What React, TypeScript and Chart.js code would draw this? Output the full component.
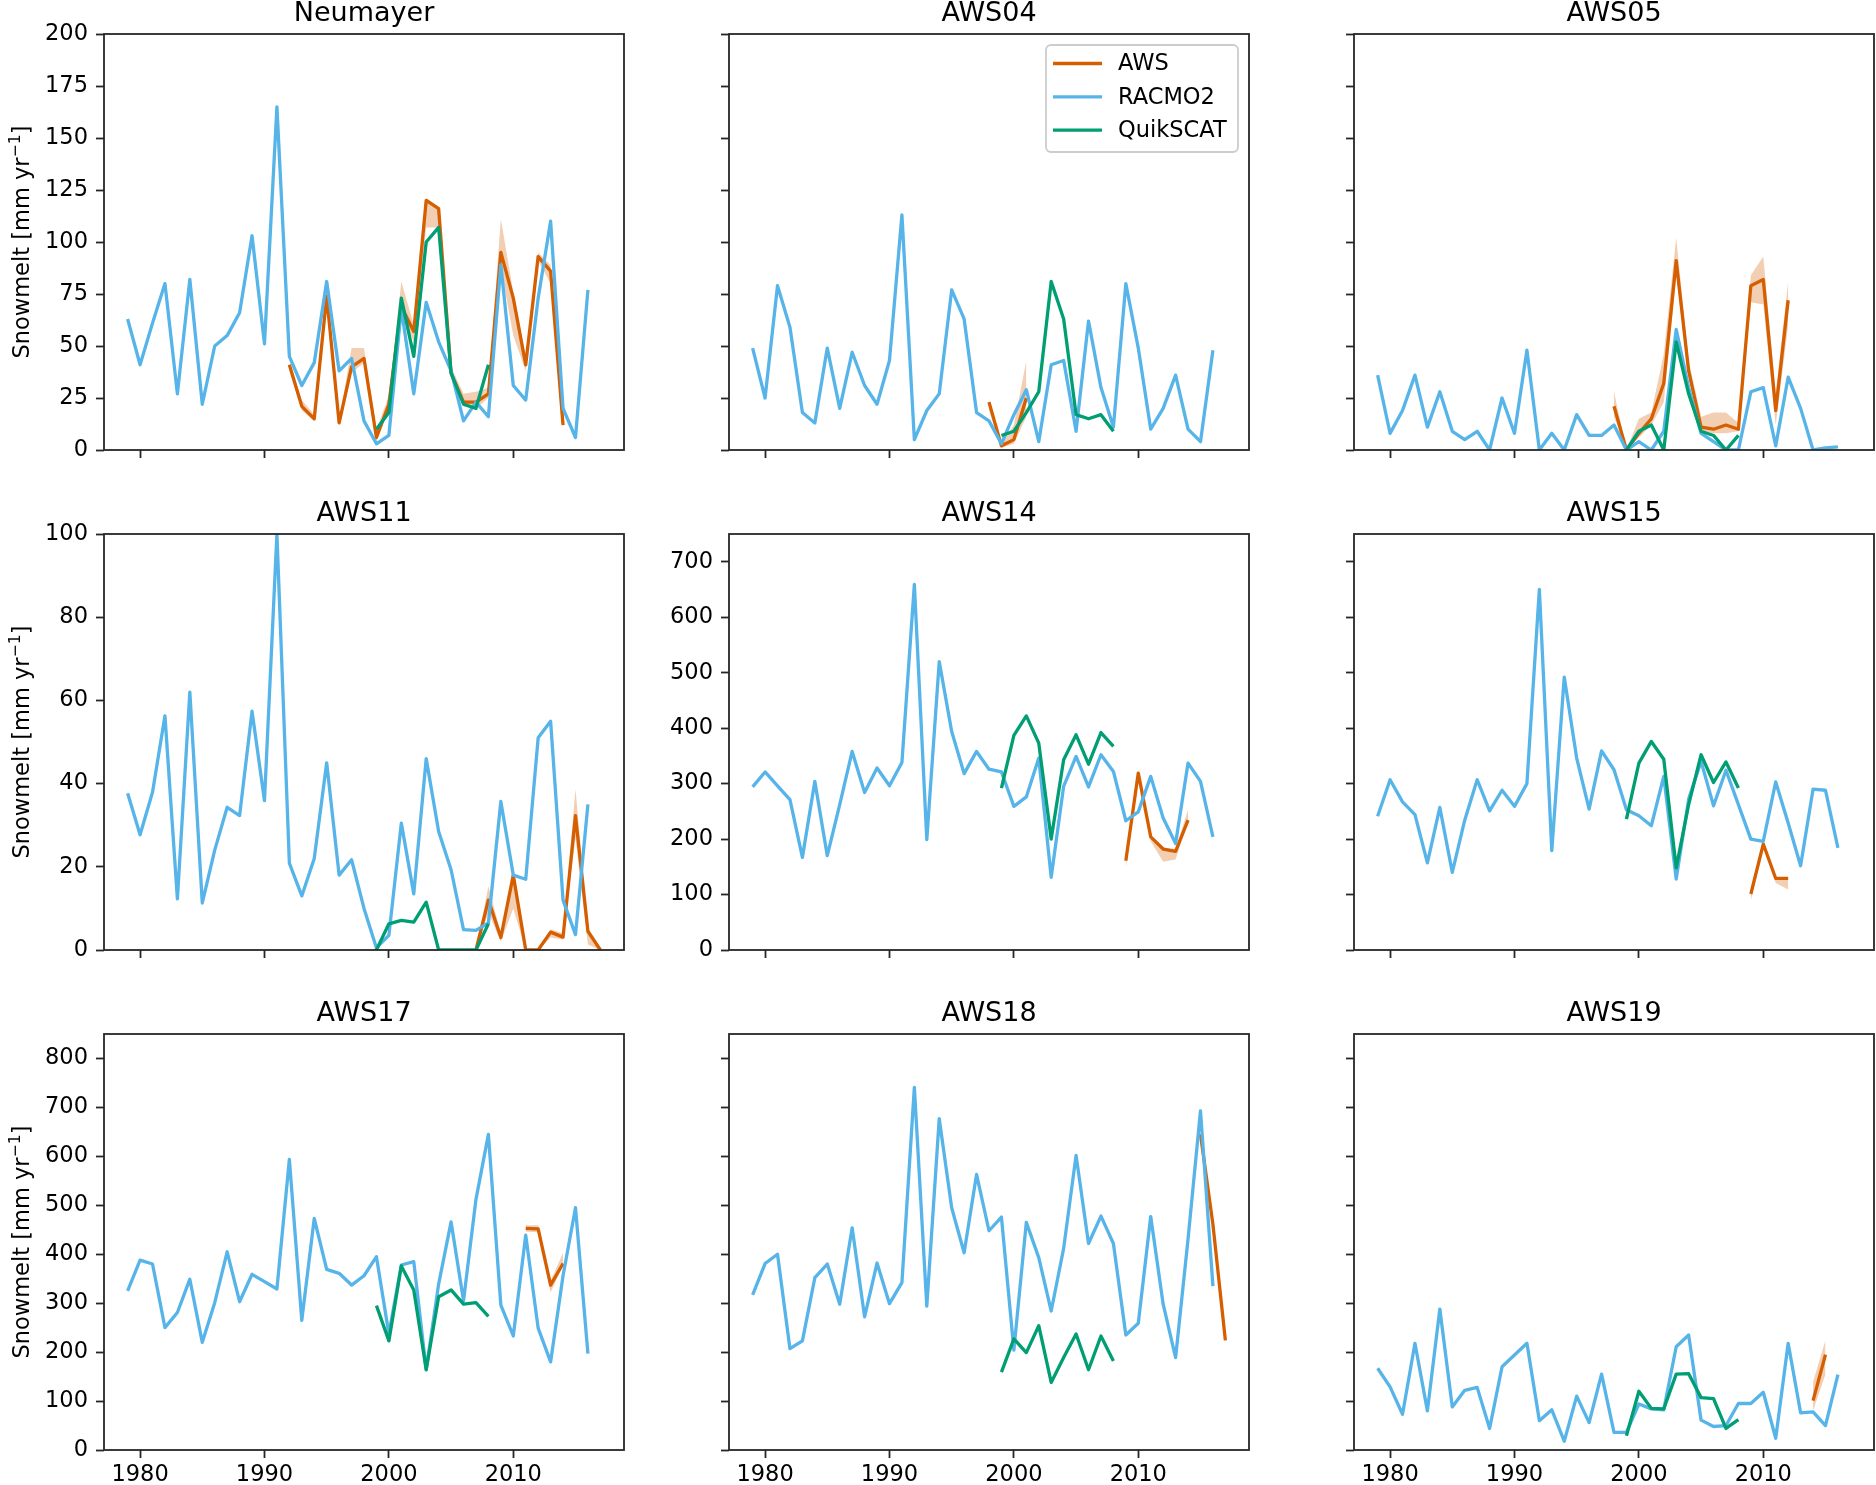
import React, { useEffect, useRef } from 'react';
import { Chart, registerables } from 'chart.js';

Chart.register(...registerables);

const FONT_FAMILY = '"DejaVu Sans", "Noto Sans", sans-serif';
const FONT_SIZE = 22.5;
const TITLE_SIZE = 27;
const C_AWS = '#D55E00';
const C_RAC = '#56B4E9';
const C_QS = '#009E73';
const C_BAND = 'rgba(213,94,0,0.3)';
const C_SPINE = '#262626';

// ---------- shared categories ----------
const RACMO_YEARS = [
  1979, 1980, 1981, 1982, 1983, 1984, 1985, 1986, 1987, 1988,
  1989, 1990, 1991, 1992, 1993, 1994, 1995, 1996, 1997, 1998,
  1999, 2000, 2001, 2002, 2003, 2004, 2005, 2006, 2007, 2008,
  2009, 2010, 2011, 2012, 2013, 2014, 2015, 2016,
];
const QS_YEARS = [1999, 2000, 2001, 2002, 2003, 2004, 2005, 2006, 2007, 2008];
const X_TICKS = [1980, 1990, 2000, 2010];
const Y_TICKS_200 = [0, 25, 50, 75, 100, 125, 150, 175, 200];
const Y_TICKS_100 = [0, 20, 40, 60, 80, 100];
const Y_TICKS_700 = [0, 100, 200, 300, 400, 500, 600, 700];
const Y_TICKS_800 = [0, 100, 200, 300, 400, 500, 600, 700, 800];
const TITLES = ['Neumayer', 'AWS04', 'AWS05', 'AWS11', 'AWS14', 'AWS15', 'AWS17', 'AWS18', 'AWS19'];
const LEGEND_LABELS = ['AWS', 'RACMO2', 'QuikSCAT'];
const Y_LABEL_MAIN = 'Snowmelt [mm yr';
const Y_LABEL_SUP = '\u22121';
const Y_LABEL_END = ']';

// ---------- Neumayer ----------
const NEU_RACMO = [63, 41, 61, 80, 27, 82, 22, 50, 55, 66, 103, 51, 165, 45, 31, 42, 81, 38, 44, 14, 3, 7, 68, 27, 71, 52, 38, 14, 23, 16, 89, 31, 24, 73, 110, 20, 6, 77];
const NEU_AWS_YEARS = [1992, 1993, 1994, 1995, 1996, 1997, 1998, 1999, 2000, 2001, 2002, 2003, 2004, 2005, 2006, 2007, 2008, 2009, 2010, 2011, 2012, 2013, 2014];
const NEU_AWS = [41, 21, 15, 74, 13, 40, 44, 6, 22, 69, 57, 120, 116, 37, 23, 23, 27, 95, 73, 41, 93, 86, 12];
const NEU_AWS_LOW = [38, 19, 14, 72, 12, 37, 42, 4, 20, 66, 52, 107, 107, 35, 21, 20, 25, 88, 55, 38, 91, 80, 12];
const NEU_AWS_HIGH = [42, 24, 17, 76, 14, 49, 49, 10, 26, 81, 60, 121, 117, 40, 27, 28, 30, 111, 76, 45, 95, 89, 13];
const NEU_QS = [10, 18, 73, 45, 100, 107, 37, 22, 20, 41];

// ---------- AWS04 ----------
const A04_RACMO = [49, 25, 79, 59, 18, 13, 49, 20, 47, 31, 22, 43, 113, 5, 19, 27, 77, 63, 18, 14, 3, 17, 29, 4, 41, 43, 9, 62, 30, 11, 80, 49, 10, 20, 36, 10, 4, 48];
const A04_AWS_YEARS = [1998, 1999, 2000, 2001];
const A04_AWS = [23, 2, 5, 25];
const A04_AWS_LOW = [19, 1, 3, 16];
const A04_AWS_HIGH = [24, 3, 12, 43];
const A04_QS = [7, 9, 18, 28, 81, 63, 17, 15, 17, 9];

// ---------- AWS05 ----------
const A05_RACMO = [36, 8, 19, 36, 11, 28, 9, 5, 9, 0, 25, 8, 48, 0, 8, 0, 17, 7, 7, 12, 0, 4, 0, 9, 58, 30, 8, 4, 0, 0, 28, 30, 2, 35, 20, 0, 1, 1.5];
const A05_AWS_YEARS = [1998, 1999, 2000, 2001, 2002, 2003, 2004, 2005, 2006, 2007, 2008, 2009, 2010, 2011, 2012];
const A05_AWS = [21, 0, 8, 15, 32, 91, 38, 11, 10, 12, 10, 79, 82, 19, 72];
const A05_AWS_LOW = [16, 0, 6, 12, 23, 84, 35, 9, 8, 8, 9, 71, 70, 12, 60];
const A05_AWS_HIGH = [28, 0, 15, 18, 46, 102, 43, 16, 18, 18, 13, 84, 93, 27, 81];
const A05_QS = [0, 9, 12, 0, 52, 27, 9, 7, 0, 7];

// ---------- AWS11 ----------
const A11_RACMO = [37.7, 27.7, 37.9, 56.3, 12.3, 62, 11.3, 24, 34.3, 32.3, 57.4, 35.9, 100, 20.9, 13, 22, 45, 18, 21.7, 10, 0.5, 3.5, 30.5, 13.5, 46, 28.5, 19.3, 4.9, 4.7, 6.5, 35.7, 18, 17, 51, 55, 12, 3.7, 35];
const A11_AWS_YEARS = [2007, 2008, 2009, 2010, 2011, 2012, 2013, 2014, 2015, 2016, 2017];
const A11_AWS = [0, 12, 3, 18, 0, 0, 4.3, 3.1, 32.3, 4.5, 0];
const A11_AWS_LOW = [0, 9, 2, 10, 0, 0, 3, 2.5, 27, 1.3, 0];
const A11_AWS_HIGH = [0, 15.3, 4, 19, 0, 0, 5, 4, 38.7, 5, 0];
const A11_QS = [0, 6.3, 7.1, 6.7, 11.5, 0, 0, 0, 0, 6.3];

// ---------- AWS14 ----------
const A14_RACMO = [294, 321, 296, 271, 167, 304, 170, 262, 358, 284, 328, 296, 338, 659, 199, 520, 394, 318, 358, 326, 321, 259, 276, 346, 131, 295, 349, 294, 352, 322, 233, 249, 313, 238, 192, 337, 304, 204];
const A14_AWS_YEARS = [2009, 2010, 2011, 2012, 2013, 2014];
const A14_AWS = [161, 319, 204, 182, 178, 234];
const A14_AWS_LOW = [148, 316, 196, 159, 163, 232];
const A14_AWS_HIGH = [164, 322, 206, 185, 182, 253];
const A14_QS = [292, 387, 422, 373, 200, 343, 388, 335, 392, 367];

// ---------- AWS15 ----------
const A15_RACMO = [241, 307, 267, 244, 157, 257, 140, 234, 307, 251, 288, 259, 300, 650, 179, 492, 346, 254, 359, 325, 253, 242, 224, 313, 128, 272, 340, 260, 324, 262, 200, 196, 303, 229, 152, 290, 288, 184];
const A15_AWS_YEARS = [2009, 2010, 2011, 2012];
const A15_AWS = [101, 191, 129, 129];
const A15_AWS_LOW = [89, 189, 121, 109];
const A15_AWS_HIGH = [104, 194, 131, 130];
const A15_QS = [236, 337, 376, 344, 148, 262, 352, 302, 339, 292];

// ---------- AWS17 ----------
const A17_RACMO = [325, 388, 380, 250, 281, 349, 220, 301, 405, 303, 359, 344, 329, 594, 265, 473, 369, 361, 337, 356, 395, 237, 378, 385, 164, 339, 466, 305, 512, 645, 296, 233, 439, 249, 180, 356, 495, 197];
const A17_AWS_YEARS = [2011, 2012, 2013, 2014];
const A17_AWS = [453, 452, 337, 381];
const A17_AWS_LOW = [446, 445, 322, 378];
const A17_AWS_HIGH = [459, 459, 346, 403];
const A17_QS = [295, 223, 376, 327, 164, 313, 327, 298, 301, 273];

// ---------- AWS18 ----------
const A18_RACMO = [317, 381, 400, 207, 223, 352, 380, 298, 454, 272, 382, 299, 342, 741, 294, 677, 495, 403, 563, 448, 476, 204, 465, 393, 284, 412, 602, 422, 478, 422, 235, 259, 477, 298, 189, 431, 693, 335];
const A18_AWS_YEARS = [2015, 2016, 2017];
const A18_AWS = [645, 461, 224];
const A18_AWS_LOW = [640, 450, 216];
const A18_AWS_HIGH = [652, 470, 230];
const A18_QS = [159, 227, 199, 254, 138, 189, 237, 164, 233, 182];

// ---------- AWS19 ----------
const A19_RACMO = [167, 129, 73, 218, 80, 288, 88, 122, 128, 44, 170, 194, 218, 60, 82, 18, 110, 56, 155, 36, 36, 94, 84, 82, 211, 235, 61, 48, 50, 95, 95, 118, 24, 218, 76, 78, 50, 154];
const A19_AWS_YEARS = [2014, 2015];
const A19_AWS = [101, 195];
const A19_AWS_LOW = [80, 155];
const A19_AWS_HIGH = [139, 224];
const A19_QS = [29, 120, 85, 84, 155, 156, 107, 105, 44, 62];

type PanelDef = {
  title: string;
  racmo: number[];
  awsYears: number[];
  aws: number[];
  awsLow: number[];
  awsHigh: number[];
  qs: number[];
  yMax: number;
  yTicks: number[];
  row: number;
  col: number;
};

const PANELS: PanelDef[] = [
  { title: TITLES[0], racmo: NEU_RACMO, awsYears: NEU_AWS_YEARS, aws: NEU_AWS, awsLow: NEU_AWS_LOW, awsHigh: NEU_AWS_HIGH, qs: NEU_QS, yMax: 200, yTicks: Y_TICKS_200, row: 0, col: 0 },
  { title: TITLES[1], racmo: A04_RACMO, awsYears: A04_AWS_YEARS, aws: A04_AWS, awsLow: A04_AWS_LOW, awsHigh: A04_AWS_HIGH, qs: A04_QS, yMax: 200, yTicks: Y_TICKS_200, row: 0, col: 1 },
  { title: TITLES[2], racmo: A05_RACMO, awsYears: A05_AWS_YEARS, aws: A05_AWS, awsLow: A05_AWS_LOW, awsHigh: A05_AWS_HIGH, qs: A05_QS, yMax: 200, yTicks: Y_TICKS_200, row: 0, col: 2 },
  { title: TITLES[3], racmo: A11_RACMO, awsYears: A11_AWS_YEARS, aws: A11_AWS, awsLow: A11_AWS_LOW, awsHigh: A11_AWS_HIGH, qs: A11_QS, yMax: 100, yTicks: Y_TICKS_100, row: 1, col: 0 },
  { title: TITLES[4], racmo: A14_RACMO, awsYears: A14_AWS_YEARS, aws: A14_AWS, awsLow: A14_AWS_LOW, awsHigh: A14_AWS_HIGH, qs: A14_QS, yMax: 750, yTicks: Y_TICKS_700, row: 1, col: 1 },
  { title: TITLES[5], racmo: A15_RACMO, awsYears: A15_AWS_YEARS, aws: A15_AWS, awsLow: A15_AWS_LOW, awsHigh: A15_AWS_HIGH, qs: A15_QS, yMax: 750, yTicks: Y_TICKS_700, row: 1, col: 2 },
  { title: TITLES[6], racmo: A17_RACMO, awsYears: A17_AWS_YEARS, aws: A17_AWS, awsLow: A17_AWS_LOW, awsHigh: A17_AWS_HIGH, qs: A17_QS, yMax: 850, yTicks: Y_TICKS_800, row: 2, col: 0 },
  { title: TITLES[7], racmo: A18_RACMO, awsYears: A18_AWS_YEARS, aws: A18_AWS, awsLow: A18_AWS_LOW, awsHigh: A18_AWS_HIGH, qs: A18_QS, yMax: 850, yTicks: Y_TICKS_800, row: 2, col: 1 },
  { title: TITLES[8], racmo: A19_RACMO, awsYears: A19_AWS_YEARS, aws: A19_AWS, awsLow: A19_AWS_LOW, awsHigh: A19_AWS_HIGH, qs: A19_QS, yMax: 850, yTicks: Y_TICKS_800, row: 2, col: 2 },
];

// ---------- layout constants ----------
const CANVAS_W = 626;
const CANVAS_H = 484;
const Y_AXIS_W = 104;
const X_AXIS_H = 34;
const TOP_PAD = 34;
const COL_STEP = 625;
const ROW_STEP = 500;
const LINE_W = 3.3;

const font = (size: number) => `${size}px ${FONT_FAMILY}`;

function pts(xs: number[], ys: number[]) {
  return xs.map((x, i) => ({ x, y: ys[i] }));
}

function makeDecorPlugin(p: PanelDef) {
  return {
    id: 'decor' + p.title,
    afterDraw(chart: any) {
      const ctx: CanvasRenderingContext2D = chart.ctx;
      const ca = chart.chartArea;
      ctx.save();
      // spines
      ctx.strokeStyle = C_SPINE;
      ctx.lineWidth = 1.8;
      ctx.lineJoin = 'miter';
      ctx.strokeRect(ca.left, ca.top, ca.right - ca.left, ca.bottom - ca.top);

      // title
      ctx.fillStyle = '#000';
      ctx.font = font(TITLE_SIZE);
      ctx.textAlign = 'center';
      ctx.textBaseline = 'alphabetic';
      ctx.fillText(p.title, (ca.left + ca.right) / 2, ca.top - 13.5);

      // y label on first column
      if (p.col === 0) {
        ctx.save();
        ctx.translate(22, (ca.top + ca.bottom) / 2);
        ctx.rotate(-Math.PI / 2);
        ctx.textAlign = 'left';
        ctx.textBaseline = 'alphabetic';
        ctx.font = font(FONT_SIZE);
        const w1 = ctx.measureText(Y_LABEL_MAIN).width;
        const w3 = ctx.measureText(Y_LABEL_END).width;
        ctx.font = font(FONT_SIZE * 0.7);
        const w2 = ctx.measureText(Y_LABEL_SUP).width;
        const total = w1 + w2 + w3;
        let x = -total / 2;
        const base = 7;
        ctx.font = font(FONT_SIZE);
        ctx.fillText(Y_LABEL_MAIN, x, base);
        x += w1;
        ctx.font = font(FONT_SIZE * 0.7);
        ctx.fillText(Y_LABEL_SUP, x, base - 9);
        x += w2;
        ctx.font = font(FONT_SIZE);
        ctx.fillText(Y_LABEL_END, x, base);
        ctx.restore();
      }

      // legend in AWS04 panel
      if (p.row === 0 && p.col === 1) {
        const w = 192;
        const h = 107;
        const bx = ca.right - 11 - w;
        const by = ca.top + 11;
        ctx.beginPath();
        if ((ctx as any).roundRect) {
          (ctx as any).roundRect(bx, by, w, h, 5);
        } else {
          ctx.rect(bx, by, w, h);
        }
        ctx.fillStyle = 'rgba(255,255,255,0.8)';
        ctx.fill();
        ctx.strokeStyle = '#cccccc';
        ctx.lineWidth = 1.8;
        ctx.stroke();
        const colors = [C_AWS, C_RAC, C_QS];
        LEGEND_LABELS.forEach((lab, i) => {
          const cy = by + 18.5 + i * 33.3;
          ctx.beginPath();
          ctx.strokeStyle = colors[i];
          ctx.lineWidth = LINE_W;
          ctx.lineCap = 'butt';
          ctx.moveTo(bx + 7, cy);
          ctx.lineTo(bx + 56, cy);
          ctx.stroke();
          ctx.fillStyle = '#000';
          ctx.font = font(FONT_SIZE);
          ctx.textAlign = 'left';
          ctx.textBaseline = 'middle';
          ctx.fillText(lab, bx + 72, cy + 1);
        });
      }
      ctx.restore();
    },
  };
}

function makeConfig(p: PanelDef): any {
  const showX = p.row === 2;
  const showY = p.col === 0 || (p.row === 1 && p.col === 1);
  const lineCommon = {
    pointRadius: 0,
    borderWidth: LINE_W,
    tension: 0,
    fill: false,
    clip: 0,
    borderJoinStyle: 'round',
    borderCapStyle: 'butt',
  };
  return {
    type: 'line',
    data: {
      datasets: [
        { ...lineCommon, label: 'QuikSCAT', data: pts(QS_YEARS, p.qs), borderColor: C_QS, backgroundColor: C_QS, order: 0 },
        { ...lineCommon, label: 'RACMO2', data: pts(RACMO_YEARS, p.racmo), borderColor: C_RAC, backgroundColor: C_RAC, order: 1 },
        { ...lineCommon, label: 'AWS', data: pts(p.awsYears, p.aws), borderColor: C_AWS, backgroundColor: C_AWS, order: 2 },
        { ...lineCommon, label: 'AWS low', data: pts(p.awsYears, p.awsLow), borderColor: 'rgba(0,0,0,0)', borderWidth: 0, order: 4 },
        { ...lineCommon, label: 'AWS high', data: pts(p.awsYears, p.awsHigh), borderColor: 'rgba(0,0,0,0)', borderWidth: 0, backgroundColor: C_BAND, fill: 3, order: 3 },
      ],
    },
    options: {
      animation: false,
      responsive: false,
      maintainAspectRatio: false,
      devicePixelRatio: 1,
      events: [],
      layout: { padding: { top: TOP_PAD, right: 2, left: 0, bottom: 0 } },
      plugins: {
        legend: { display: false },
        tooltip: { enabled: false },
        title: { display: false },
      },
      scales: {
        x: {
          type: 'linear',
          min: 1977.1,
          max: 2018.9,
          afterBuildTicks: (s: any) => {
            s.ticks = X_TICKS.map((v) => ({ value: v }));
          },
          afterFit: (s: any) => {
            s.height = X_AXIS_H;
          },
          grid: { drawOnChartArea: false, drawTicks: true, tickLength: 8, tickWidth: 1.8, tickColor: C_SPINE, color: C_SPINE },
          border: { display: false },
          ticks: {
            color: showX ? '#000' : 'rgba(0,0,0,0)',
            font: { family: FONT_FAMILY, size: FONT_SIZE },
            padding: 4,
            maxRotation: 0,
            autoSkip: false,
            callback: (v: any) => String(v),
          },
        },
        y: {
          type: 'linear',
          min: 0,
          max: p.yMax,
          afterBuildTicks: (s: any) => {
            s.ticks = p.yTicks.map((v) => ({ value: v }));
          },
          afterFit: (s: any) => {
            s.width = Y_AXIS_W;
          },
          grid: { drawOnChartArea: false, drawTicks: true, tickLength: 8, tickWidth: 1.8, tickColor: C_SPINE, color: C_SPINE },
          border: { display: false },
          ticks: {
            color: showY ? '#000' : 'rgba(0,0,0,0)',
            font: { family: FONT_FAMILY, size: FONT_SIZE },
            padding: 8,
            autoSkip: false,
            callback: (v: any) => String(v),
          },
        },
      },
    },
    plugins: [makeDecorPlugin(p)],
  };
}

function Panel({ p }: { p: PanelDef }) {
  const ref = useRef<HTMLCanvasElement>(null);
  useEffect(() => {
    if (!ref.current) return;
    const chart = new Chart(ref.current, makeConfig(p));
    return () => chart.destroy();
  }, [p]);
  return (
    <canvas
      ref={ref}
      width={CANVAS_W}
      height={CANVAS_H}
      style={{
        position: 'absolute',
        left: p.col * COL_STEP,
        top: p.row * ROW_STEP,
        width: CANVAS_W,
        height: CANVAS_H,
      }}
    />
  );
}

export default function App() {
  useEffect(() => {
    document.body.style.margin = '0';
  }, []);
  return (
    <div
      style={{
        position: 'absolute',
        left: 0,
        top: 0,
        width: 1876,
        height: 1485,
        overflow: 'hidden',
        background: '#fff',
      }}
    >
      {PANELS.map((p) => (
        <Panel key={p.title} p={p} />
      ))}
    </div>
  );
}
